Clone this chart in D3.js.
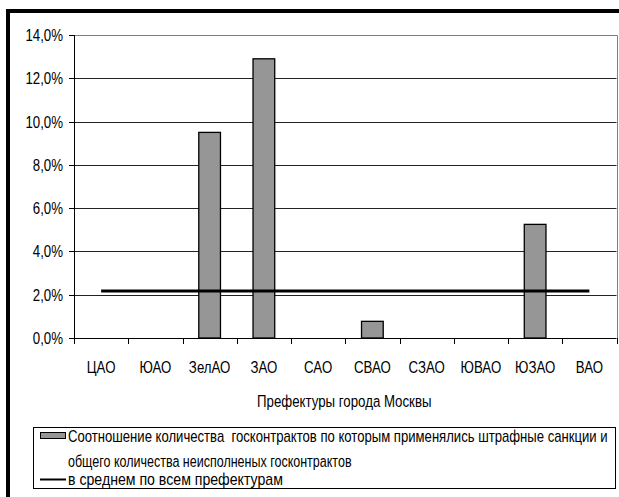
<!DOCTYPE html>
<html><head><meta charset="utf-8">
<script src="https://cdn.jsdelivr.net/npm/d3@7"></script>
<style>
html,body{margin:0;padding:0;background:#fff;}
svg{display:block;}
text{font-family:'Liberation Sans Narrow','Arial Narrow','Liberation Sans',Arial,sans-serif;fill:#000;}
</style></head>
<body>
<svg id="chart" width="619" height="497"></svg>
<script>
const categories = ["ЦАО","ЮАО","ЗелАО","ЗАО","САО","СВАО","СЗАО","ЮВАО","ЮЗАО","ВАО"];
const values = [0, 0, 9.5, 12.9, 0, 0.77, 0, 0, 5.25, 0];
const averageValue = 2.17;
const yTicks = [0, 2, 4, 6, 8, 10, 12, 14];
const yTickLabels = ["0,0%","2,0%","4,0%","6,0%","8,0%","10,0%","12,0%","14,0%"];
const xTitle = "Префектуры города Москвы";
const legendBarLines = ["Соотношение количества  госконтрактов по которым применялись штрафные санкции и", "общего количества неисполненых госконтрактов"];
const legendLineLabel = "в среднем по всем префектурам";

const svg = d3.select("#chart");
const L = 74, R = 616.5, T = 35, B = 338;
const NARROW = 0.78;
const FS = 17;

function ntext(parent, px, py, str, anchor, size) {
  return parent.append("text")
    .attr("transform", `translate(${px},${py}) scale(${NARROW},1)`)
    .attr("text-anchor", anchor || "start")
    .attr("font-size", size || FS)
    .style("white-space", "pre")
    .text(str);
}
function fitText(parent, px, py, str, width, size) {
  const t = parent.append("text")
    .attr("font-size", size || FS)
    .style("white-space", "pre")
    .text(str);
  const w = t.node().getComputedTextLength();
  const s = w > 0 ? width / w : NARROW;
  t.attr("transform", `translate(${px},${py}) scale(${s},1)`);
  return t;
}

// outer border
svg.append("rect").attr("x", 8).attr("y", 11).attr("width", 640).attr("height", 520)
  .attr("fill", "none").attr("stroke", "#000").attr("stroke-width", 4);

const x = d3.scaleBand().domain(categories).range([L, R]).padding(0);
const y = d3.scaleLinear().domain([0, 14]).range([B, T]);

// gridlines
svg.append("g").selectAll("line").data(yTicks.filter(d => d > 0 && d < 14)).join("line")
  .attr("x1", L).attr("x2", R)
  .attr("y1", d => Math.round(y(d)) + 0.5).attr("y2", d => Math.round(y(d)) + 0.5)
  .attr("stroke", "#222").attr("stroke-width", 1);

// plot frame top/right gray
svg.append("path")
  .attr("d", `M${L},${Math.round(T)+0.5}H${Math.round(R)+0.5}V${B}`)
  .attr("fill", "none").attr("stroke", "#808080").attr("stroke-width", 1);

// bars
const bw = x.bandwidth() / 2.5;
svg.append("g").selectAll("rect").data(categories.map((c, i) => ({c, v: values[i]})).filter(d => d.v > 0)).join("rect")
  .attr("x", d => x(d.c) + (x.bandwidth() - bw) / 2)
  .attr("y", d => y(d.v))
  .attr("width", bw)
  .attr("height", d => y(0) - y(d.v))
  .attr("fill", "#969696").attr("stroke", "#000").attr("stroke-width", 1.3);

// average line
svg.append("line")
  .attr("x1", x(categories[0]) + x.bandwidth() / 2)
  .attr("x2", x(categories[categories.length - 1]) + x.bandwidth() / 2)
  .attr("y1", y(averageValue)).attr("y2", y(averageValue))
  .attr("stroke", "#000").attr("stroke-width", 3);

// y axis
svg.append("line").attr("x1", L + 0.5).attr("x2", L + 0.5).attr("y1", T).attr("y2", B)
  .attr("stroke", "#000").attr("stroke-width", 1);
const yg = svg.append("g");
yTicks.forEach((t, i) => {
  const yy = Math.round(y(t)) + 0.5;
  yg.append("line").attr("x1", L - 5).attr("x2", L).attr("y1", yy).attr("y2", yy).attr("stroke", "#000");
  ntext(yg, 63, y(t) + 6, yTickLabels[i], "end");
});

// x axis
svg.append("line").attr("x1", L).attr("x2", R).attr("y1", B + 0.5).attr("y2", B + 0.5)
  .attr("stroke", "#000");
const xg = svg.append("g");
const tickPos = categories.map(c => x(c)).concat([x.range()[1]]);
tickPos.forEach(p => {
  const px = Math.round(p) + 0.5;
  xg.append("line").attr("x1", px).attr("x2", px).attr("y1", B).attr("y2", B + 6).attr("stroke", "#000");
});
categories.forEach(c => {
  ntext(xg, x(c) + x.bandwidth() / 2, 373, c, "middle");
});

// x title
ntext(svg, (L + R) / 2 - 1, 407, xTitle, "middle");

// legend
svg.append("rect").attr("x", 33.5).attr("y", 427.5).attr("width", 582).attr("height", 61)
  .attr("fill", "#fff").attr("stroke", "#000").attr("stroke-width", 1);
svg.append("rect").attr("x", 40.5).attr("y", 432.5).attr("width", 25).attr("height", 6)
  .attr("fill", "#969696").attr("stroke", "#000").attr("stroke-width", 1);
fitText(svg, 68, 442, legendBarLines[0], 540);
fitText(svg, 68, 467, legendBarLines[1], 284);
svg.append("line").attr("x1", 40).attr("x2", 66).attr("y1", 479.5).attr("y2", 479.5)
  .attr("stroke", "#000").attr("stroke-width", 2);
fitText(svg, 68, 485, legendLineLabel, 215);
</script>
</body></html>
